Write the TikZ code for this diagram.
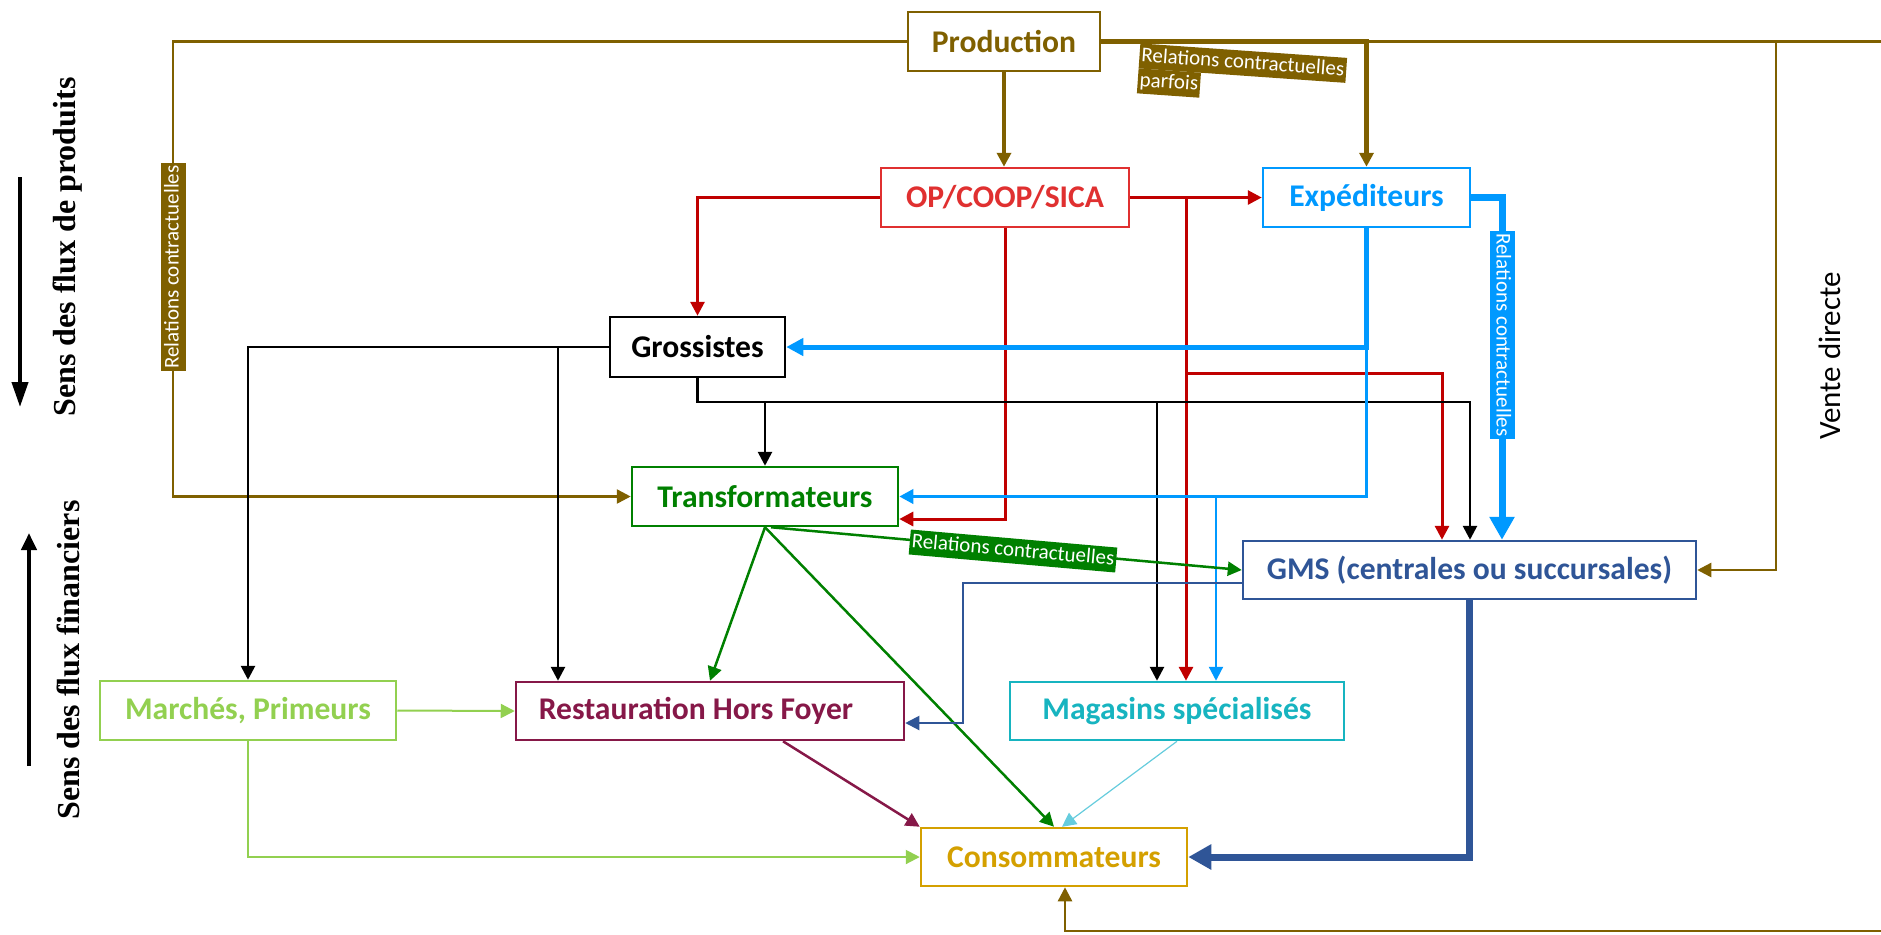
\documentclass[tikz,border=0pt]{standalone}
\usepackage{fontspec}
\setmainfont{Carlito}
\newfontfamily\timesfont{Liberation Serif}
\usetikzlibrary{shapes,arrows.meta,positioning}

\definecolor{brun}{RGB}{127,96,0}
\definecolor{rouge}{RGB}{192,0,0}
\definecolor{rougeclair}{RGB}{224,48,48}
\definecolor{bleu}{RGB}{0,153,255}
\definecolor{vert}{RGB}{0,128,0}
\definecolor{bleufonce}{RGB}{47,85,151}
\definecolor{vertclair}{RGB}{146,208,80}
\definecolor{bordeaux}{RGB}{134,24,72}
\definecolor{turquoise}{RGB}{23,180,192}
\definecolor{turquoiseclair}{RGB}{102,204,221}
\definecolor{orconso}{RGB}{212,160,0}

\newcommand{\surligne}[1]{{\setlength{\fboxsep}{1pt}\colorbox{brun}{\rule[-2.5pt]{0pt}{10.5pt}#1}}}

\begin{document}
\begin{tikzpicture}[x=0.5pt,y=-0.5pt,
    acteur/.style={draw=#1,text=#1,line width=1.25pt,fill=white,font=\fontsize{15.8}{19}\selectfont\bfseries,
      minimum height=29.5pt,inner sep=0pt},
    etiquette/.style={text=white,fill=#1,font=\fontsize{10.5}{12}\selectfont,inner sep=1pt,
      text height=8pt,text depth=2.5pt},
    fleche/.style={-{Triangle[length=7pt,width=7pt]}},
    moyennefleche/.style={-{Triangle[length=8.5pt,width=8.5pt]}},
    grossefleche/.style={-{Triangle[length=11.5pt,width=12pt]}}]
  \useasboundingbox (0,0) rectangle (1881,934);

  \node[acteur=brun,minimum width=96pt] (prod) at (1004,41.5) {Production};
  \node[acteur=rougeclair,minimum width=124pt] (op) at (1005,197.5) {OP/COOP/SICA};
  \node[acteur=bleu,minimum width=103.5pt] (exp) at (1366.5,197.5) {Expéditeurs};
  \node[acteur=black,minimum width=87.5pt,minimum height=30pt] (gros) at (697.5,347) {Grossistes};
  \node[acteur=vert,minimum width=133pt] (trans) at (765,496.5) {Transformateurs};
  \node[acteur=bleufonce,minimum width=226.5pt,minimum height=29pt] (gms) at (1469.5,570) {GMS (centrales ou succursales)};
  \node[acteur=vertclair,minimum width=148pt] (marc) at (248,710.5) {Marchés, Primeurs};
  \node[acteur=bordeaux,minimum width=194pt,minimum height=29pt] (resto) at (710,711) {\hspace*{-14pt}Restauration Hors Foyer};
  \node[acteur=turquoise,minimum width=167pt,minimum height=29pt] (mag) at (1177,711) {Magasins spécialisés};
  \node[acteur=orconso,minimum width=133pt,minimum height=29pt] (cons) at (1054,857) {Consommateurs};

  \coordinate (gauche) at (173,41.5);
  \coordinate (bordhaut) at (1881,41.5);
  \coordinate (vd) at (1776,41.5);
  \coordinate (bordbas) at (1881,931);
  \coordinate (r1) at (1186,197.5);

  \draw[brun,line width=2.15pt,fleche] (prod.south) -- (prod.south |- op.north);
  \draw[brun,line width=2.15pt,fleche] (prod.east) -| (exp.north);
  \draw[brun,line width=1.25pt] (exp.north |- prod.east) -- (bordhaut);
  \draw[brun,line width=1.25pt,fleche] (vd) |- (gms.east);
  \draw[brun,line width=1.25pt,fleche] (prod.west) -- (gauche) |- (trans.west);
  \draw[brun,line width=1.25pt,fleche] (bordbas) -| (cons.south -| 1065,0);

  \draw[rouge,line width=1.5pt,fleche] (op.west) -| (gros.north);
  \draw[rouge,line width=1.5pt,fleche] (op.east) -- (exp.west);
  \draw[rouge,line width=1.5pt,fleche] (op.south) |- (trans.east |- 0,519);
  \draw[rouge,line width=1.5pt,fleche] (r1) -- (r1 |- mag.north);
  \draw[rouge,line width=1.5pt,fleche] (r1 |- 0,373) -| (gms.north -| 1442,0);

  \draw[line width=1.35pt,fleche] (gros.west) -| (marc.north);
  \draw[line width=1.35pt,fleche] (gros.west -| 558,0) -- (resto.north -| 558,0);
  \draw[line width=1.35pt,fleche] (gros.south) -- (gros.south |- 0,402) -| (gms.north -| 1470,0);
  \draw[line width=1.35pt,fleche] (trans.north |- 0,402) -- (trans.north);
  \draw[line width=1.35pt,fleche] (1157,402) -- (mag.north -| 1157,0);

  \draw[bleu,line width=2.5pt,moyennefleche] (exp.south) |- (gros.east);
  \draw[bleu,line width=1.75pt,fleche] (exp.south |- gros.east) |- (trans.east);
  \draw[bleu,line width=1.1pt,fleche] (trans.east -| 1216,0) -- (mag.north -| 1216,0);
  \draw[bleu,line width=3.5pt,grossefleche] (exp.east) -| (gms.north -| 1502,0);

  \draw[vert,line width=1.25pt,fleche] (trans.south) -- (resto.north);
  \draw[vert,line width=1.25pt,fleche] (trans.south) -- (cons.north);
  \draw[vert,line width=1.25pt,fleche] (trans.south -| 771,0) -- (gms.west);

  \draw[bordeaux,line width=1.25pt,fleche] (resto.south -| 783,0) -- (cons.north west);
  \draw[turquoiseclair,line width=0.6pt,fleche] (mag.south) -- (cons.north -| 1062,0);
  \draw[vertclair,line width=1pt,fleche] (marc.east) -- (resto.west);
  \draw[vertclair,line width=1pt,fleche] (marc.south) |- (cons.west);
  \draw[bleufonce,line width=1pt,fleche] (gms.west |- 0,583) -- (963,583) |- (resto.east |- 0,723);
  \draw[bleufonce,line width=3.5pt,grossefleche] (gms.south) |- (cons.east);

  \node[etiquette=brun,rotate=90] (rcgauche) at (173,267) {Relations contractuelles};
  \node[etiquette=bleu,rotate=-90] (rcbleu) at (1502,335) {Relations contractuelles};
  \node[etiquette=vert,rotate=-5] (rcvert) at (1013,551) {Relations contractuelles};
  \node[text=white,font=\fontsize{10.5}{12.5}\selectfont,align=left,inner sep=0pt,rotate=-4,anchor=north west]
    (rcprod) at (1140,43) {\surligne{Relations contractuelles}\\\surligne{parfois}};

  \coordinate (pa) at (20,177);
  \coordinate (pb) at (20,407);
  \coordinate (fa) at (29,766);
  \coordinate (fb) at (29,533);
  \draw[line width=2pt,-{Triangle[length=12.5pt,width=8pt]}] (pa) -- (pb);
  \draw[line width=2pt,-{Triangle[length=8.5pt,width=7.5pt]}] (fa) -- (fb);
  \node[font=\timesfont\bfseries\fontsize{16}{19}\selectfont,rotate=90] (sensprod) at (68,247) {Sens des flux de produits};
  \node[font=\timesfont\bfseries\fontsize{16}{19}\selectfont,rotate=90] (sensfin) at (68,660) {Sens des flux financiers};
  \node[font=\fontsize{15.5}{18}\selectfont,rotate=90] (vente) at (1830,356) {Vente directe};
\end{tikzpicture}
\end{document}
